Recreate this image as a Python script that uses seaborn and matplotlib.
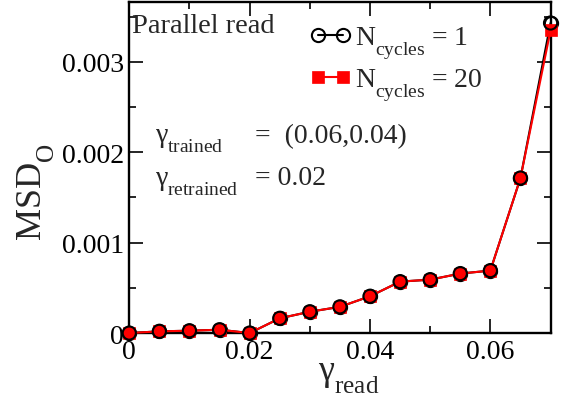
import numpy as np
import pandas as pd
import matplotlib
matplotlib.use("Agg")
import matplotlib.pyplot as plt
import matplotlib._mathtext as mathtext_internals
from matplotlib.ticker import FixedLocator, FixedFormatter, MultipleLocator
import seaborn as sns

# MSD of the output vs. read amplitude, parallel read protocol
gamma_read = [0.0, 0.005, 0.01, 0.015, 0.02, 0.025, 0.03, 0.035,
              0.04, 0.045, 0.05, 0.055, 0.06, 0.065, 0.07]
msd_n1 = [0.0, 0.000019, 0.000026, 0.000037, 0.0, 0.000163, 0.000236,
          0.000290, 0.000407, 0.000569, 0.000591, 0.000658, 0.000691,
          0.001715, 0.003430]
msd_n20 = [0.0, 0.000019, 0.000026, 0.000037, 0.0, 0.000163, 0.000236,
           0.000290, 0.000407, 0.000569, 0.000591, 0.000658, 0.000691,
           0.001715, 0.003350]

xticks = [0.0, 0.02, 0.04, 0.06]
xtick_labels = ["0", "0.02", "0.04", "0.06"]
yticks = [0.0, 0.001, 0.002, 0.003]
ytick_labels = ["0", "0.001", "0.002", "0.003"]

label_n1 = r"N$_{\mathrm{cycles}}$ = 1"
label_n20 = r"N$_{\mathrm{cycles}}$ = 20"

df = pd.DataFrame({"gamma": gamma_read, "n1": msd_n1, "n20": msd_n20})

sns.set_theme(style="ticks")
plt.rcParams["font.family"] = ["Liberation Serif", "DejaVu Serif"]
plt.rcParams["mathtext.fontset"] = "custom"
plt.rcParams["mathtext.rm"] = "Liberation Serif"
plt.rcParams["mathtext.it"] = "Liberation Serif:italic"
plt.rcParams["mathtext.bf"] = "Liberation Serif:bold"
# deeper subscripts, Grace style
mathtext_internals.FontConstantsBase.sub1 = 0.8

fig, ax = plt.subplots(figsize=(5.67, 4.02), dpi=100)
fig.subplots_adjust(left=0.228, right=0.971, bottom=0.169, top=0.992)

sns.lineplot(data=df, x="gamma", y="n1", ax=ax, color="black", lw=1.5,
             marker="o", markersize=9.5, markerfacecolor="none",
             markeredgecolor="black", markeredgewidth=1.5,
             label=label_n1, zorder=2, clip_on=False)
sns.lineplot(data=df, x="gamma", y="n20", ax=ax, color="red", lw=1.5,
             marker="s", markersize=8, markerfacecolor="red",
             markeredgecolor="red", markeredgewidth=0.5,
             label=label_n20, zorder=3, clip_on=False)
# circle outlines kept visible above the squares
sns.scatterplot(data=df, x="gamma", y="n1", ax=ax, marker="o", s=90,
                facecolor="none", edgecolor="black", linewidth=1.5,
                legend=False, zorder=4, clip_on=False)

ax.set_xlim(0, 0.07)
ax.set_ylim(0, 0.00366)

ax.xaxis.set_major_locator(FixedLocator(xticks))
ax.xaxis.set_major_formatter(FixedFormatter(xtick_labels))
ax.xaxis.set_minor_locator(MultipleLocator(0.01))
ax.yaxis.set_major_locator(FixedLocator(yticks))
ax.yaxis.set_major_formatter(FixedFormatter(ytick_labels))
ax.yaxis.set_minor_locator(MultipleLocator(0.0005))

ax.tick_params(which="both", direction="in", top=True, right=True,
               labelsize=20, width=1.2, colors="black")
ax.tick_params(which="major", length=10, pad=4)
ax.tick_params(which="minor", length=5)
for s in ax.spines.values():
    s.set_linewidth(1.7)
    s.set_color("black")

ax.set_xlabel(r"γ$_{\mathrm{read}}$", fontsize=26)
ax.set_ylabel(r"MSD$_{\mathrm{O}}$", fontsize=26)
ax.xaxis.set_label_coords(0.52, -0.082)
ax.yaxis.set_label_coords(-0.172, 0.43)

ax.text(0.006, 0.91, "Parallel read", transform=ax.transAxes,
        fontsize=20.5, ha="left", va="baseline")

ax.text(0.061, 0.578, r"γ$_{\mathrm{trained}}$", transform=ax.transAxes,
        fontsize=20, ha="left", va="baseline")
ax.text(0.298, 0.578, "=  (0.06,0.04)", transform=ax.transAxes,
        fontsize=20, ha="left", va="baseline")
ax.text(0.061, 0.45, r"γ$_{\mathrm{retrained}}$", transform=ax.transAxes,
        fontsize=20, ha="left", va="baseline")
ax.text(0.298, 0.45, "= 0.02", transform=ax.transAxes,
        fontsize=20, ha="left", va="baseline")

leg = ax.legend(loc="upper left", bbox_to_anchor=(0.428, 0.932),
                frameon=False, fontsize=20, numpoints=2,
                handlelength=1.5, handletextpad=0.15, labelspacing=0.2,
                borderpad=0, borderaxespad=0)

fig.savefig("out.png", dpi=100)
